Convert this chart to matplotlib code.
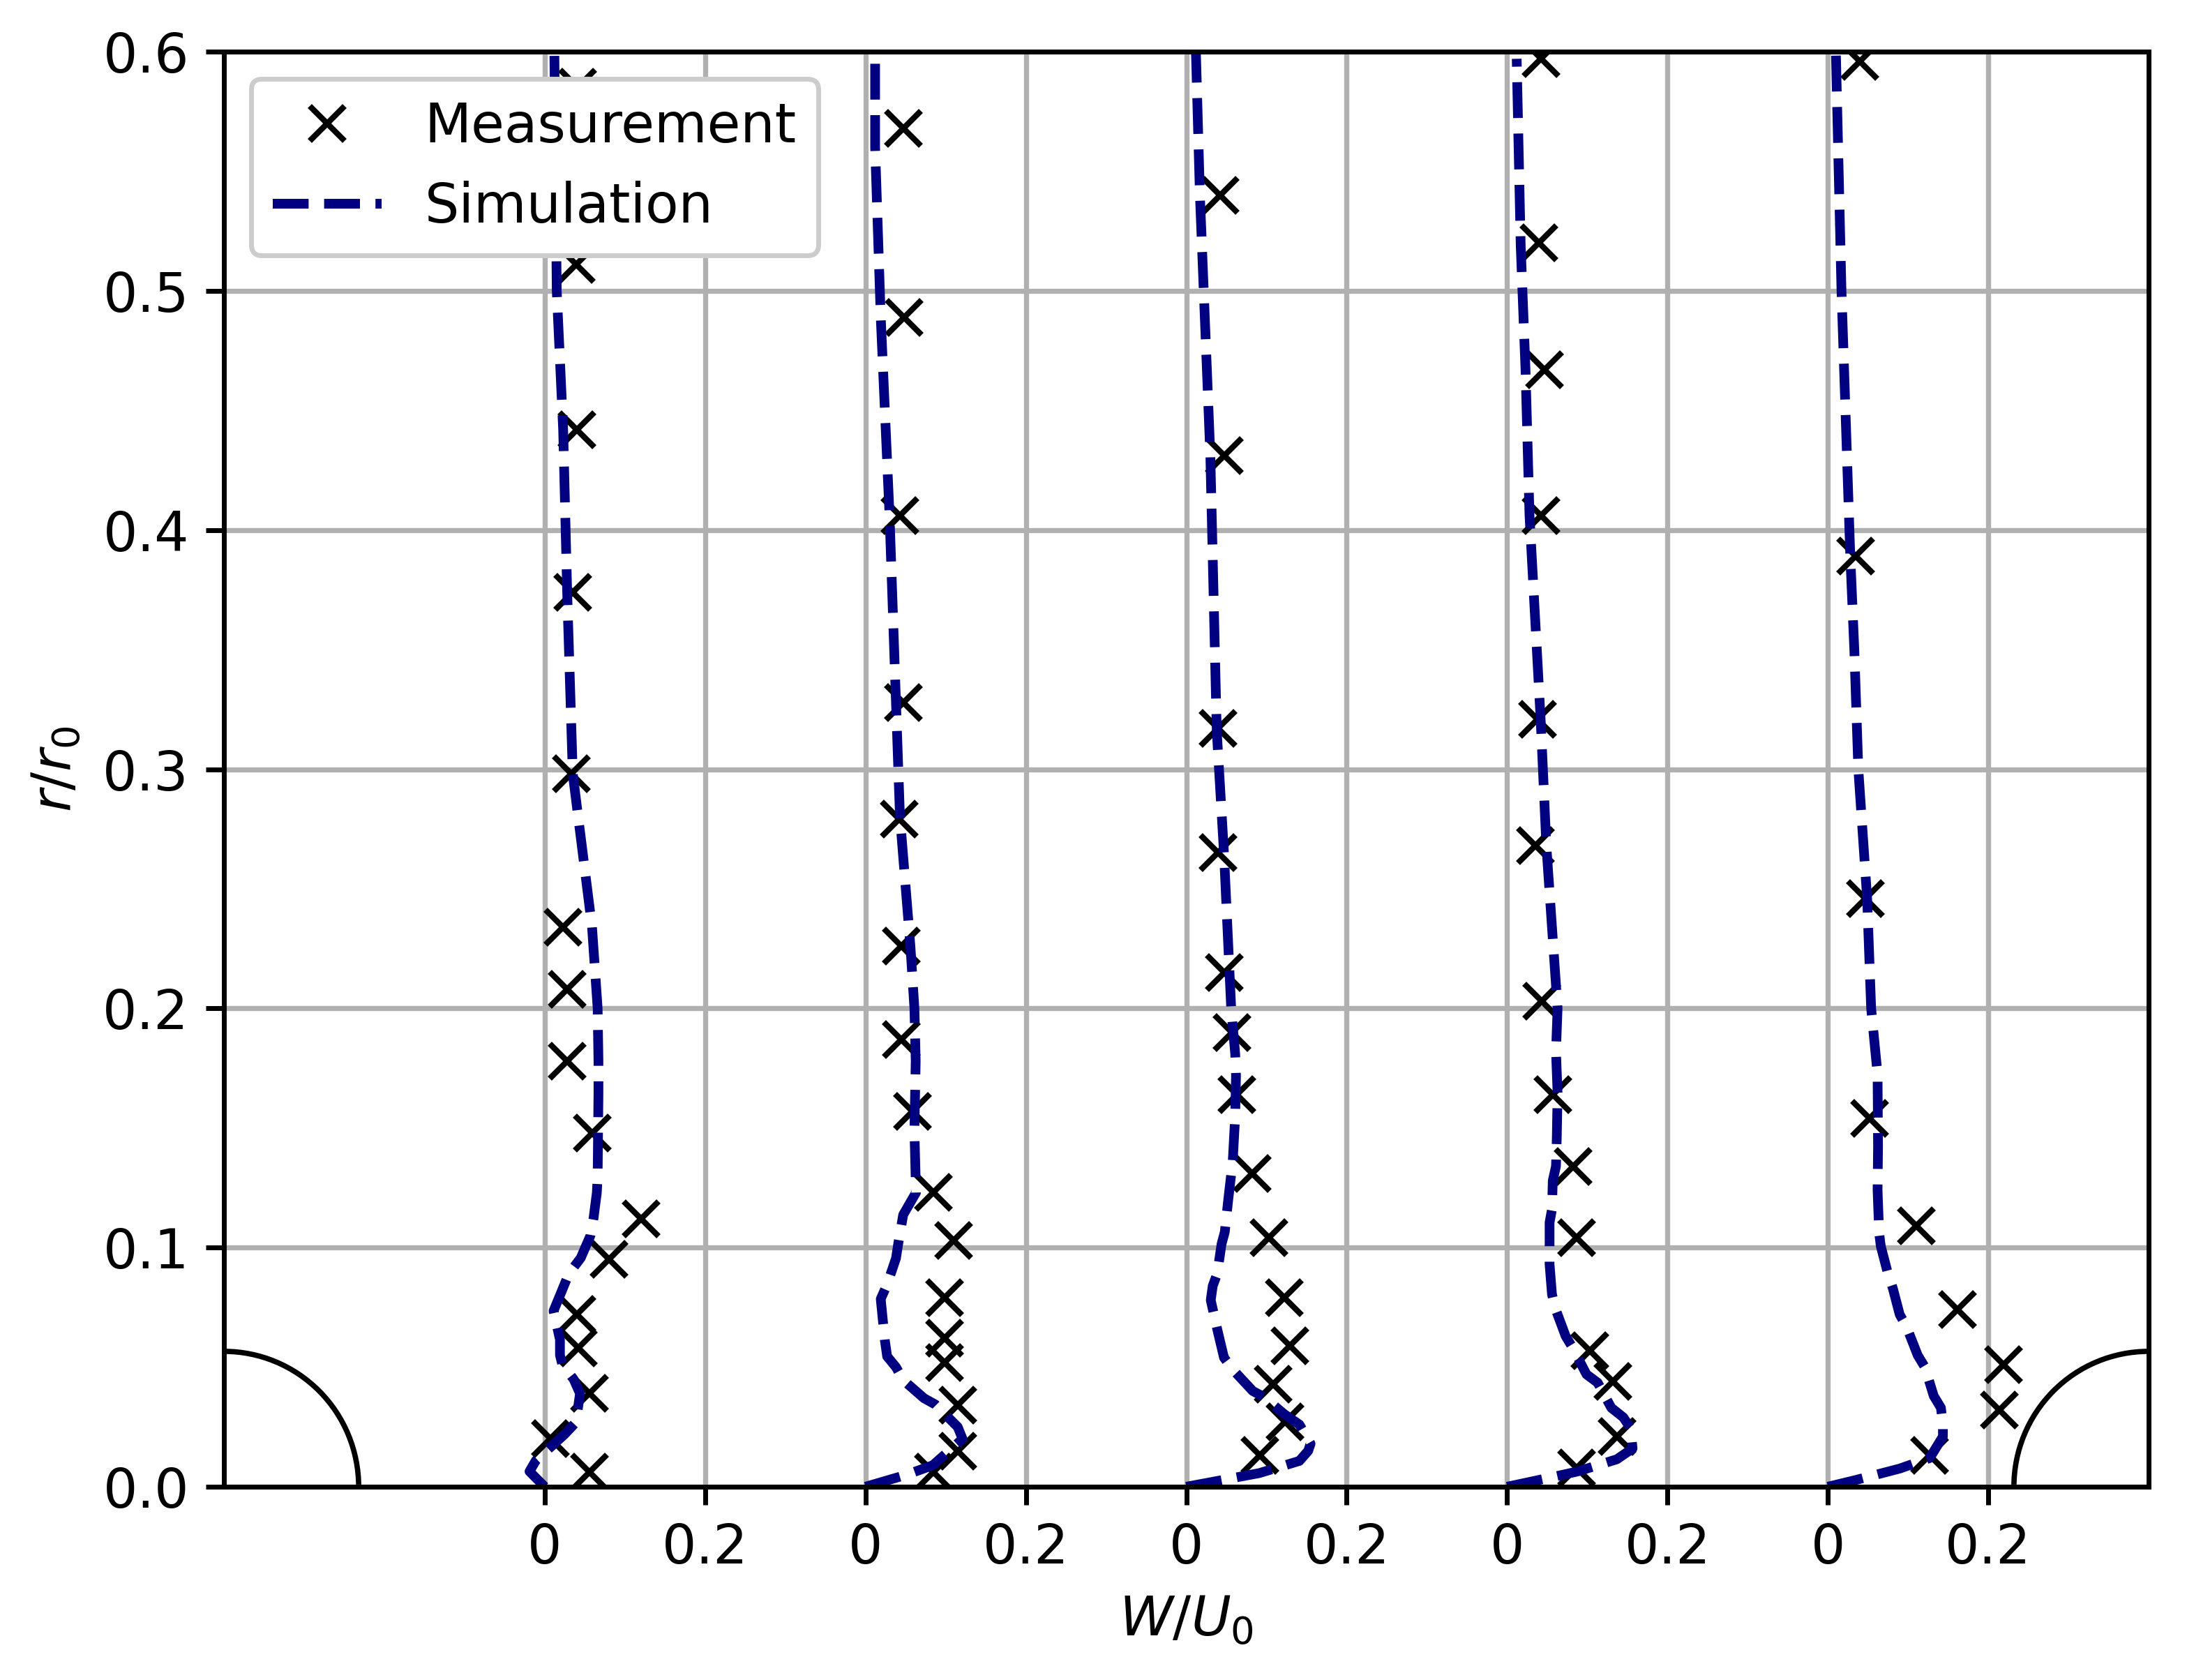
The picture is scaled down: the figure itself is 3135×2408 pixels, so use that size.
import matplotlib
matplotlib.use("Agg")
import matplotlib.pyplot as plt
from matplotlib.patches import Ellipse

plt.rcParams['font.size'] = 11.2
plt.rcParams['axes.linewidth'] = 1.0
plt.rcParams['xtick.major.width'] = 1.0
plt.rcParams['ytick.major.width'] = 1.0
plt.rcParams['xtick.major.size'] = 3.7
plt.rcParams['ytick.major.size'] = 3.7

offsets = [0.0, 0.4, 0.8, 1.2, 1.6]
tick_positions = [0, 0.2, 0.4, 0.6, 0.8, 1.0, 1.2, 1.4, 1.6, 1.8]
tick_labels = ['0', '0.2'] * 5
y_ticks = [0.0, 0.1, 0.2, 0.3, 0.4, 0.5, 0.6]
hub_rx = 0.168
hub_ry = 0.0566

meas_w_1 = [.056, .007, .056, .042, .040, .080, .120, .059, .028, .028, .023, .033, .035, .040, .039, .041]
meas_r_1 = [.006, .020, .039, .058, .072, .095, .112, .148, .178, .208, .234, .298, .374, .442, .511, .585]
meas_w_2 = [.085, .115, .115, .099, .099, .099, .110, .085, .059, .045, .045, .042, .047, .043, .048, .047]
meas_r_2 = [.006, .015, .034, .052, .062, .079, .103, .123, .157, .187, .226, .279, .328, .406, .489, .568]
meas_w_3 = [.092, .123, .108, .129, .122, .103, .082, .063, .057, .047, .040, .040, .047, .042]
meas_r_3 = [.013, .027, .043, .059, .079, .104, .131, .164, .190, .215, .265, .317, .431, .540]
meas_w_4 = [.087, .137, .132, .103, .087, .082, .057, .043, .035, .038, .042, .047, .040, .042]
meas_r_4 = [.008, .021, .044, .057, .104, .134, .164, .203, .268, .321, .406, .467, .520, .597]
meas_w_5 = [.127, .214, .219, .162, .110, .052, .047, .035, .040]
meas_r_5 = [.013, .032, .051, .074, .109, .154, .246, .389, .596]

sim_w_1 = [.000, -.019, -.011, .025, .039, .044, .036, .022, .019, .019, .011, .019, .030, .045, .057, .061, .065, .066, .067, .067, .066, .059, .035, .028, .023, .015, .012]
sim_r_1 = [.000, .0064, .011, .022, .027, .039, .045, .051, .055, .0615, .0735, .080, .089, .0957, .105, .1125, .123, .1295, .1645, .178, .200, .234, .298, .374, .442, .500, .600]
sim_w_2 = [.000, .051, .084, .121, .115, .087, .073, .047, .038, .027, .024, .019, .027, .038, .041, .047, .063, .061, .0626, .061, .056, .043, .038, .030, .019, .012, .012]
sim_r_2 = [.000, .005, .009, .020, .025, .0344, .037, .0446, .050, .0545, .0615, .0785, .0846, .0955, .102, .1137, .123, .149, .178, .200, .226, .280, .328, .406, .489, .560, .600]
sim_w_3 = [.000, .091, .141, .152, .155, .141, .122, .0965, .083, .058, .047, .0385, .0305, .033, .0385, .044, .048, .052, .058, .061, .062, .061, .056, .047, .038, .030, .017, .012]
sim_r_3 = [.000, .0057, .0108, .015, .018, .026, .0304, .0376, .040, .049, .054, .066, .078, .084, .089, .1015, .1065, .119, .1365, .155, .172, .181, .200, .265, .316, .431, .540, .600]
sim_w_4 = [.000, .056, .088, .137, .1565, .154, .145, .130, .113, .099, .082, .073, .060, .056, .053, .053, .056, .057, .061, .062, .063, .061, .063, .049, .042, .028, .023, .017, .012]
sim_r_4 = [.000, .004, .0064, .0115, .016, .0245, .029, .033, .0435, .047, .058, .063, .0747, .0805, .093, .1105, .116, .128, .134, .146, .1645, .182, .200, .268, .320, .406, .467, .519, .597]
sim_w_5 = [.000, .037, .0896, .127, .1435, .1435, .141, .132, .121, .112, .098, .0896, .081, .075, .066, .064, .062, .0626, .062, .054, .049, .038, .033, .028, .017, .010]
sim_r_5 = [.000, .003, .0076, .012, .021, .026, .033, .038, .050, .055, .067, .072, .083, .089, .1006, .106, .124, .1424, .1725, .200, .246, .300, .350, .389, .500, .600]

meas = [(meas_w_1, meas_r_1), (meas_w_2, meas_r_2), (meas_w_3, meas_r_3), (meas_w_4, meas_r_4), (meas_w_5, meas_r_5)]
sims = [(sim_w_1, sim_r_1), (sim_w_2, sim_r_2), (sim_w_3, sim_r_3), (sim_w_4, sim_r_4), (sim_w_5, sim_r_5)]

W, H = 3135, 2408
fig = plt.figure(figsize=(W / 500, H / 500), dpi=500)
ax = fig.add_axes([321 / W, 1 - 2131 / H, (3080 - 321) / W, (2131 - 74) / H])

for i, off in enumerate(offsets):
    mw, mr = meas[i]
    sw, sr = sims[i]
    ax.plot([v + off for v in mw], mr, linestyle='none', marker='x', color='k', markersize=7.3,
            markeredgewidth=1.2, label='Measurement' if i == 0 else None)
    ax.plot([v + off for v in sw], sr, '--', color='navy', linewidth=2.0,
            label='Simulation' if i == 0 else None)

ax.add_patch(Ellipse((-0.4, 0), 2 * hub_rx, 2 * hub_ry, fill=False, edgecolor='k', linewidth=1.1))
ax.add_patch(Ellipse((2.0, 0), 2 * hub_rx, 2 * hub_ry, fill=False, edgecolor='k', linewidth=1.1))

ax.set_xlim(-0.4, 2.0)
ax.set_ylim(0, 0.6)
ax.set_xticks(tick_positions)
ax.set_xticklabels(tick_labels)
ax.set_yticks(y_ticks)
ax.grid(True, linewidth=1.05)
ax.set_xlabel(r'$W/U_0$')
ax.set_ylabel(r'$r/r_0$')
ax.legend(loc='upper left', framealpha=1.0)

fig.savefig('out.png', dpi=500)
